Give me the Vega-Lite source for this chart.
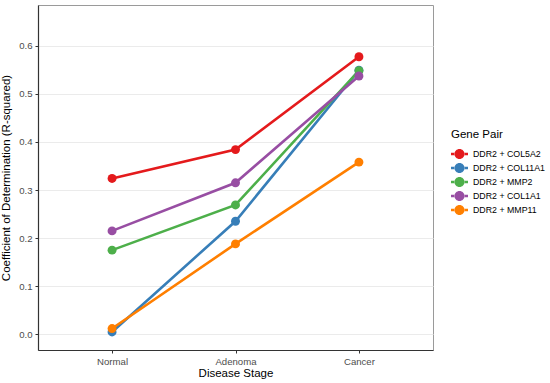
{
  "$schema": "https://vega.github.io/schema/vega-lite/v6.json",
  "width": 395,
  "height": 345,
  "autosize": "none",
  "padding": {"left": 38, "top": 5, "right": 117, "bottom": 33},
  "background": "white",
  "config": {
    "font": "Liberation Sans",
    "view": {"stroke": "#9a9a9a", "strokeWidth": 1}
  },
  "data": {
    "values": [
      {"stage": "Normal", "pair": "DDR2 + COL5A2", "r2": 0.324},
      {"stage": "Adenoma", "pair": "DDR2 + COL5A2", "r2": 0.384},
      {"stage": "Cancer", "pair": "DDR2 + COL5A2", "r2": 0.577},
      {"stage": "Normal", "pair": "DDR2 + COL11A1", "r2": 0.005},
      {"stage": "Adenoma", "pair": "DDR2 + COL11A1", "r2": 0.235},
      {"stage": "Cancer", "pair": "DDR2 + COL11A1", "r2": 0.549},
      {"stage": "Normal", "pair": "DDR2 + MMP2", "r2": 0.175},
      {"stage": "Adenoma", "pair": "DDR2 + MMP2", "r2": 0.269},
      {"stage": "Cancer", "pair": "DDR2 + MMP2", "r2": 0.548},
      {"stage": "Normal", "pair": "DDR2 + COL1A1", "r2": 0.215},
      {"stage": "Adenoma", "pair": "DDR2 + COL1A1", "r2": 0.315},
      {"stage": "Cancer", "pair": "DDR2 + COL1A1", "r2": 0.537},
      {"stage": "Normal", "pair": "DDR2 + MMP11", "r2": 0.012},
      {"stage": "Adenoma", "pair": "DDR2 + MMP11", "r2": 0.188},
      {"stage": "Cancer", "pair": "DDR2 + MMP11", "r2": 0.358}
    ]
  },
  "encoding": {
    "x": {
      "field": "stage", "type": "ordinal", "sort": ["Normal", "Adenoma", "Cancer"],
      "scale": {"type": "point", "padding": 0.6},
      "axis": {
        "title": "Disease Stage", "titleFontSize": 11.5, "titleFontWeight": "normal", "titleColor": "#000", "titlePadding": 2,
        "labelFontSize": 9.6, "labelColor": "#4d4d4d", "labelAngle": 0, "labelPadding": 3,
        "domainColor": "#333", "domainWidth": 1.2, "tickColor": "#333", "tickSize": 3,
        "grid": false
      }
    },
    "y": {
      "field": "r2", "type": "quantitative",
      "scale": {"domain": [-0.0326, 0.6846], "nice": false, "zero": false},
      "axis": {
        "title": "Coefficient of Determination (R-squared)", "titleFontSize": 11.5, "titleFontWeight": "normal", "titleColor": "#000", "titlePadding": 7,
        "values": [0, 0.1, 0.2, 0.3, 0.4, 0.5, 0.6], "format": ".1f",
        "labelFontSize": 9.6, "labelColor": "#4d4d4d", "labelPadding": 3,
        "domainColor": "#333", "domainWidth": 1.2, "tickColor": "#333", "tickSize": 3,
        "grid": true, "gridColor": "#ebebeb", "gridWidth": 1
      }
    },
    "color": {
      "field": "pair", "type": "nominal",
      "sort": ["DDR2 + COL5A2", "DDR2 + COL11A1", "DDR2 + MMP2", "DDR2 + COL1A1", "DDR2 + MMP11"],
      "scale": {
        "domain": ["DDR2 + COL5A2", "DDR2 + COL11A1", "DDR2 + MMP2", "DDR2 + COL1A1", "DDR2 + MMP11"],
        "range": ["#E41A1C", "#377EB8", "#4DAF4A", "#984EA3", "#FF7F00"]
      },
      "legend": {
        "title": "Gene Pair", "titleFontSize": 11.5, "titleFontWeight": "normal", "titleColor": "#000", "titlePadding": 5,
        "labelFontSize": 8.8, "labelColor": "#000", "labelOffset": 5,
        "orient": "none", "legendX": 413, "legendY": 124,
        "symbolType": "M -0.59 0 A 0.59 0.59 0 1 0 0.59 0 A 0.59 0.59 0 1 0 -0.59 0 Z M -1 -0.15 L -0.55 -0.15 L -0.55 0.15 L -1 0.15 Z M 0.55 -0.15 L 1 -0.15 L 1 0.15 L 0.55 0.15 Z",
        "symbolSize": 289, "symbolStrokeWidth": 0, "symbolOpacity": 1,
        "rowPadding": 0
      }
    }
  },
  "layer": [
    {"mark": {"type": "line", "strokeWidth": 2.6}},
    {"mark": {"type": "circle", "size": 80, "opacity": 1}}
  ]
}
